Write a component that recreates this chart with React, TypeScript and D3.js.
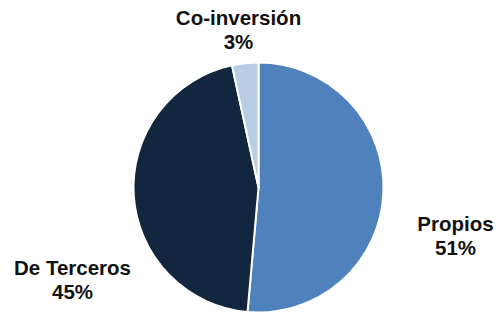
import React, { useEffect, useRef } from 'react';
import * as d3 from 'd3';

const categories = ['Propios', 'De Terceros', 'Co-inversión'];
const values = [51.4, 45.2, 3.4];
const labels = ['51%', '45%', '3%'];
const colors = ['#4F81BD', '#13263F', '#B9CDE5'];

// label anchor (centre of first line) relative to pie centre
const labelPos: [number, number][] = [
  [197, 36],
  [-186, 80],
  [-20, -170],
];

export default function App() {
  const ref = useRef<SVGSVGElement>(null);

  useEffect(() => {
    const width = 496,
      height = 316,
      cx = 258.5,
      cy = 187.5,
      radius = 125;

    const svg = d3.select(ref.current);
    svg.selectAll('*').remove();

    const data = categories.map((c, i) => ({ name: c, value: values[i], label: labels[i], i }));

    const pie = d3
      .pie<any>()
      .sort(null)
      .value((d) => d.value)(data);

    const arc = d3.arc<any>().outerRadius(radius).innerRadius(0);

    const g = svg.append('g').attr('transform', 'translate(' + cx + ',' + cy + ')');

    g.selectAll('path')
      .data(pie)
      .enter()
      .append('path')
      .attr('d', arc)
      .attr('fill', (d) => colors[d.data.i])
      .attr('stroke', '#fff')
      .attr('stroke-width', 2)
      .attr('stroke-linejoin', 'round');

    const t = g
      .selectAll('text')
      .data(pie)
      .enter()
      .append('text')
      .attr('text-anchor', 'middle')
      .attr('font-family', '"Liberation Sans", Arial, sans-serif')
      .attr('font-weight', 'bold')
      .attr('font-size', 20.5)
      .attr('fill', '#111');

    t.append('tspan')
      .attr('x', (d) => labelPos[d.data.i][0])
      .attr('y', (d) => labelPos[d.data.i][1] + 7)
      .text((d) => d.data.name);
    t.append('tspan')
      .attr('x', (d) => labelPos[d.data.i][0])
      .attr('y', (d) => labelPos[d.data.i][1] + 31)
      .text((d) => d.data.label);

    svg.attr('width', width).attr('height', height);
  }, []);

  return (
    <div style={{ position: 'absolute', left: 0, top: 0 }}>
      <svg ref={ref} width={496} height={316} style={{ display: 'block', background: '#fff' }} />
    </div>
  );
}
